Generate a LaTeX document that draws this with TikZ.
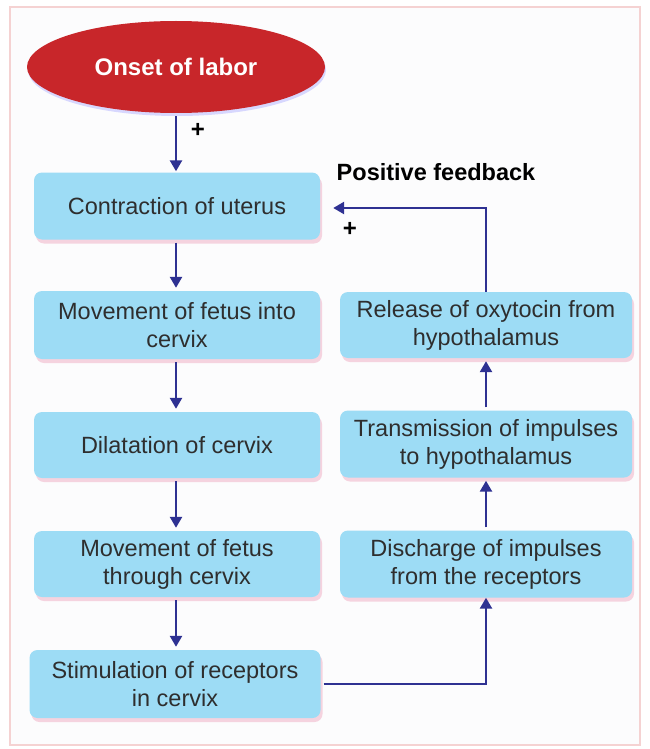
\documentclass[tikz,border=0pt]{standalone}
\usepackage{fontspec}
\setmainfont{Liberation Sans}
\usetikzlibrary{shapes.geometric,arrows.meta,shadows}
\definecolor{boxblue}{HTML}{9DDCF5}
\definecolor{arrowblue}{HTML}{2E3192}
\definecolor{labelred}{HTML}{C8262A}
\definecolor{framepink}{HTML}{F5D2D2}
\definecolor{txtgray}{HTML}{2E2E2E}
\definecolor{bgwhite}{HTML}{FCFCFD}
\definecolor{shadowpink}{HTML}{F5CFDC}
\tikzset{
  stepbox/.style={rectangle, rounded corners=8pt, fill=boxblue, align=center,
    text=txtgray, font=\fontsize{23.5}{28}\selectfont, inner sep=0pt,
    drop shadow={fill=shadowpink, shadow xshift=2pt, shadow yshift=-4pt, opacity=0.9}},
  flow/.style={draw=arrowblue, line width=2.5pt, -{Triangle[width=12pt,length=11pt]}},
}
\begin{document}
\begin{tikzpicture}[x=1pt,y=-1pt]
\useasboundingbox (0,0) rectangle (650,749);
\draw[framepink, line width=1.5pt, fill=bgwhite] (10,7) rectangle (640,745);
\node[ellipse, fill=labelred, minimum width=298pt, minimum height=92pt, text=white,
  font=\bfseries\fontsize{24}{28}\selectfont,
  drop shadow={fill=blue!25, shadow xshift=1pt, shadow yshift=-3pt, opacity=0.6}] (onset) at (176,67) {Onset of labor};
\node[stepbox, minimum width=286pt, minimum height=67pt] (c1) at (177,206) {Contraction of uterus};
\node[stepbox, minimum width=286pt, minimum height=68pt] (c2) at (177,325) {Movement of fetus into\\cervix};
\node[stepbox, minimum width=286pt, minimum height=66pt] (c3) at (177,445) {Dilatation of cervix};
\node[stepbox, minimum width=286pt, minimum height=66pt] (c4) at (177,564) {Movement of fetus\\through cervix};
\node[stepbox, minimum width=291pt, minimum height=68pt] (c5) at (175,684) {Stimulation of receptors\\in cervix};
\node[stepbox, minimum width=292pt, minimum height=66pt] (r1) at (486,325) {Release of oxytocin from\\hypothalamus};
\node[stepbox, minimum width=292pt, minimum height=67pt] (r2) at (486,444) {Transmission of impulses\\to hypothalamus};
\node[stepbox, minimum width=292pt, minimum height=67pt] (r3) at (486,564) {Discharge of impulses\\from the receptors};
\node[font=\bfseries\fontsize{23.5}{26}\selectfont] (pf) at (436,172) {Positive feedback};
\node[font=\bfseries\fontsize{24}{26}\selectfont] (plus1) at (198,130) {+};
\node[font=\bfseries\fontsize{24}{26}\selectfont] (plus2) at (350,229) {+};
\coordinate (fbturn) at (r1.north |- 0,208);
\coordinate (stturn) at (r3.south |- c5.east);
\draw[flow, shorten <=3pt, shorten >=1pt] (onset.south) -- (c1.north -| onset.south);
\draw[flow, shorten <=3pt, shorten >=3pt] (c1.south -| 176,0) -- (c2.north -| 176,0);
\draw[flow, shorten <=3pt, shorten >=3pt] (c2.south -| 176,0) -- (c3.north -| 176,0);
\draw[flow, shorten <=3pt, shorten >=3pt] (c3.south -| 176,0) -- (c4.north -| 176,0);
\draw[flow, shorten <=3pt, shorten >=3pt] (c4.south -| 176,0) -- (c5.north -| 176,0);
\draw[flow, shorten <=3pt] (c5.east) -- (stturn) -- (r3.south);
\draw[flow, shorten <=3pt, shorten >=3pt] (r3.north) -- (r2.south);
\draw[flow, shorten <=3pt, shorten >=3pt] (r2.north) -- (r1.south);
\draw[flow, shorten >=13pt] (r1.north) -- (fbturn) -- (fbturn -| c1.east);
\end{tikzpicture}
\end{document}
